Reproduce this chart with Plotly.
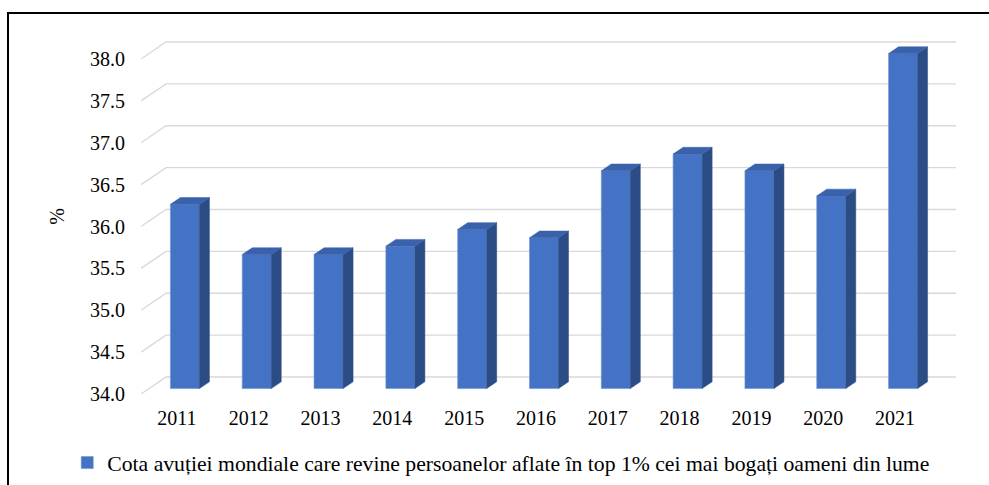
import plotly.graph_objects as go

# ---- data ----
years = ["2011", "2012", "2013", "2014", "2015", "2016", "2017", "2018", "2019", "2020", "2021"]
share = [36.2, 35.6, 35.6, 35.7, 35.9, 35.8, 36.6, 36.8, 36.6, 36.3, 38.0]
y_ticks = [34.0, 34.5, 35.0, 35.5, 36.0, 36.5, 37.0, 37.5, 38.0]
series_name = "Cota avuției mondiale care revine persoanelor aflate în top 1% cei mai bogați oameni din lume"

# ---- 3D geometry (in axis units) ----
Y_MIN, Y_MAX = 34.0, 38.2388
DX, DY = 0.3487, 0.203          # full depth of the "room"
F_FRONT, F_DEPTH = 0.32, 0.40   # bar position/depth as fraction of full depth
HALF_W = 0.202

FRONT = "#4472C4"
TOP = "#3A61AB"
SIDE = "#2C4C86"
GRID = "#D9D9D9"
FONT = "Liberation Serif, Times New Roman, serif"
tick_font = dict(family=FONT, size=20, color="black")

fig = go.Figure()

n = len(years)
x_left, x_right = -0.5, n - 0.5

# gridlines (left-wall diagonal + back wall), drawn below the bars
shapes = []
for v in y_ticks:
    path = (f"M {x_left},{v} L {x_left + DX},{v + DY} L {x_right + DX},{v + DY}")
    shapes.append(dict(type="path", xref="x", yref="y", path=path,
                       line=dict(color=GRID, width=1.4), layer="below"))

bx = [i + F_FRONT * DX for i in range(n)]
base = Y_MIN + F_FRONT * DY
ddx, ddy = F_DEPTH * DX, F_DEPTH * DY

# front faces
fig.add_trace(go.Bar(
    x=bx, y=[v - Y_MIN for v in share], base=base, width=2 * HALF_W,
    marker=dict(color=FRONT, line=dict(color="#6F93D3", width=0.6)),
    name=series_name, showlegend=True, hovertext=years))

# side and top faces
for i, v in enumerate(share):
    xl, xr = bx[i] - HALF_W, bx[i] + HALF_W
    vt = v + F_FRONT * DY
    fig.add_trace(go.Scatter(
        x=[xr, xr, xr + ddx, xr + ddx, xr],
        y=[base, vt, vt + ddy, base + ddy, base],
        mode="lines", fill="toself", fillcolor=SIDE,
        line=dict(color=SIDE, width=0.5), hoverinfo="skip", showlegend=False))
    fig.add_trace(go.Scatter(
        x=[xl, xr, xr + ddx, xl + ddx, xl],
        y=[vt, vt, vt + ddy, vt + ddy, vt],
        mode="lines", fill="toself", fillcolor=TOP,
        line=dict(color=TOP, width=0.5), hoverinfo="skip", showlegend=False))

# outer frame
shapes.append(dict(type="rect", xref="paper", yref="paper",
                   x0=(8 - 141) / 815, x1=(1000 - 141) / 815,
                   y0=(394 - 500) / 355, y1=(394 - 13) / 355,
                   line=dict(color="black", width=2), fillcolor="rgba(0,0,0,0)",
                   layer="above"))

fig.update_layout(
    width=989, height=485,
    margin=dict(l=141, r=33, t=39, b=91),
    paper_bgcolor="white", plot_bgcolor="white",
    font=dict(family=FONT, size=20, color="black"),
    showlegend=True,
    legend=dict(orientation="h", xref="container", yref="container",
                x=0.068, xanchor="left", y=1 - 463 / 485, yanchor="middle",
                font=dict(family=FONT, size=21.7, color="black"),
                bgcolor="rgba(0,0,0,0)"),
    xaxis=dict(range=[x_left, x_right + DX], tickmode="array",
               tickvals=list(range(n)), ticktext=years, tickfont=tick_font,
               showgrid=False, zeroline=False, showline=False, ticks="",
               ticklabelstandoff=10, fixedrange=True),
    yaxis=dict(range=[Y_MIN, Y_MAX], tickmode="array", tickvals=y_ticks,
               ticktext=[f"{t:.1f}" for t in y_ticks], tickfont=tick_font,
               showgrid=False, zeroline=False, showline=False, ticks="",
               ticklabelstandoff=15,
               title=dict(text="%", standoff=20, font=dict(family=FONT, size=20)),
               fixedrange=True),
    shapes=shapes,
)

fig.write_html("out.html", config={"displayModeBar": False},
               post_script="document.body.style.margin='0';document.body.style.overflow='hidden';")
